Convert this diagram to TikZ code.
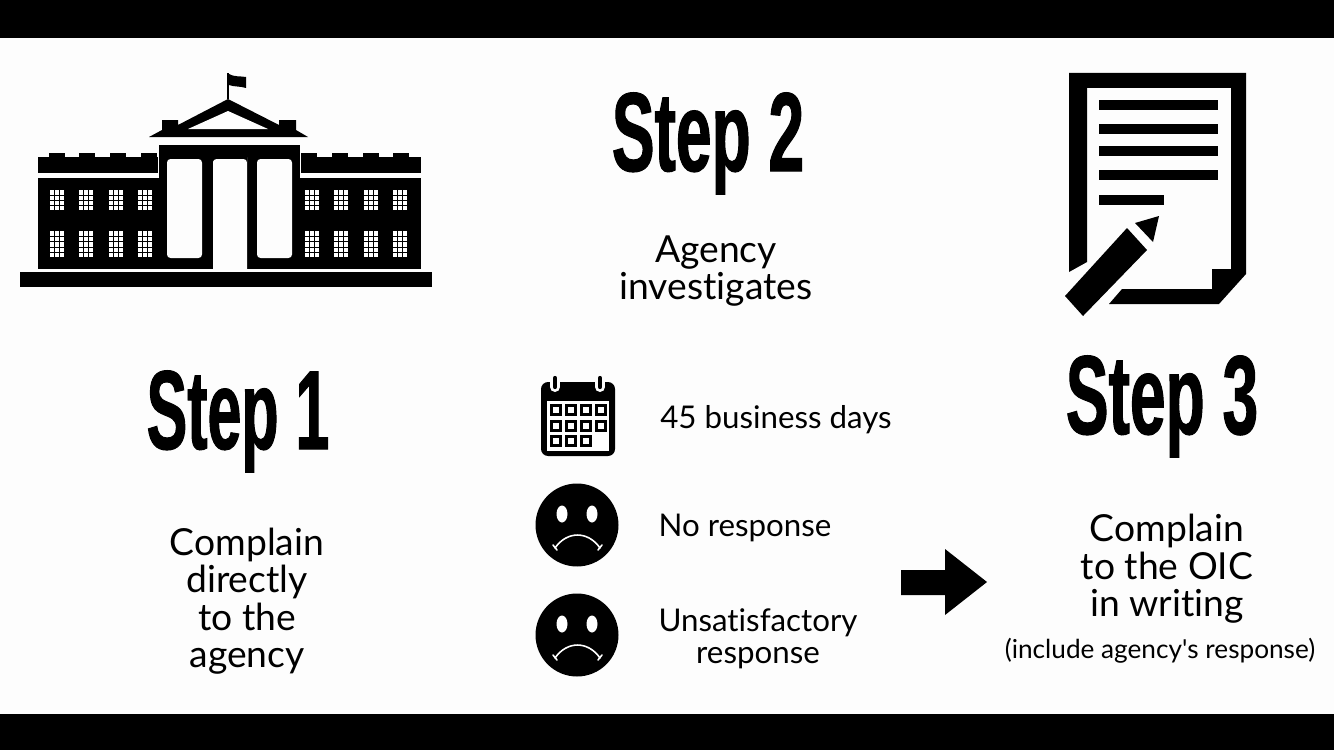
\documentclass[tikz,border=0pt]{standalone}
\usepackage{fontspec}
\setmainfont{Lato}[Ligatures=NoCommon]
\newfontfamily\stepfont[FakeStretch=0.57,FakeBold=0.9]{Liberation Sans Bold}
\definecolor{paper}{HTML}{FDFDFD}
\begin{document}
\begin{tikzpicture}[x=0.02cm,y=-0.02cm,
  steptitle/.style={inner sep=0pt,anchor=base,font=\stepfont\fontsize{64}{64}\selectfont},
  bigtext/.style={inner sep=0pt,align=center,font=\fontsize{21.2}{21.3}\selectfont},
  midtext/.style={inner sep=0pt,align=center,font=\fontsize{17.8}{18.3}\selectfont},
  smalltext/.style={inner sep=0pt,align=center,font=\fontsize{14.9}{16}\selectfont},
  window/.style={fill=white},
  winbar/.style={black,line width=0.35pt},
  sadface/.style={circle,fill=black,inner sep=0pt,minimum size=1.66cm},
  mouth/.style={white,line width=0.9pt,line cap=round}]
  \useasboundingbox (0,0) rectangle (1334,750);
  \fill[paper] (0,0) rectangle (1334,750);
  \fill[black] (0,0) rectangle (1334,38);
  \fill[black] (0,714) rectangle (1334,750);
  % building
  \fill (20,272) rectangle (432,287);
  \fill (38,178) rectangle (421,269);
  \fill (38,157) rectangle (158,173);
  \fill (301,157) rectangle (421,173);
  \foreach \cx in {49,79,110,141,301,332,363,393} {
    \fill (\cx,153) rectangle +(16,5);
  }
  \fill (159,145) rectangle (300,269);
  \fill[paper,rounded corners=2pt] (167,159) rectangle (202,258);
  \fill[paper,rounded corners=2pt] (257,159) rectangle (292,258);
  \fill[paper] (213,269) -- (213,161) [rounded corners=2pt] -- (213,159) -- (247,159) -- (247,161) [sharp corners] -- (247,269) -- cycle;
  % pediment and flag
  \fill (228,99) -- (279,125) -- (279,120) -- (296,120) -- (296,130) -- (308,137) -- (149,137) -- (162,130) -- (162,120) -- (178,120) -- (178,125) -- cycle;
  \fill[paper] (228,111) -- (268,129) -- (188,129) -- cycle;
  \draw[line width=0.6pt] (228,99) -- (228,73);
  \fill (229,74) .. controls (234,77) and (240,76) .. (246,77) -- (246,88) .. controls (240,86) and (234,87) .. (229,85) -- cycle;
  % windows
  \foreach \wx in {50,79,109,138,305,334,364,393} {
    \fill[window] (\wx,190) rectangle +(14,20);
    \fill[window] (\wx,231) rectangle +(14,26);
    \foreach \gx in {4.7,9.3} {
      \draw[winbar] (\wx+\gx,190) -- (\wx+\gx,210);
      \draw[winbar] (\wx+\gx,231) -- (\wx+\gx,257);
    }
    \foreach \gy in {195,200,205,236,241,247,252} {
      \draw[winbar] (\wx,\gy) -- (\wx+14,\gy);
    }
  }
  % document
  \fill (1069,73) -- (1246,73) -- (1246,274) -- (1219,304) -- (1109,304) -- (1122,289) -- (1212,289) -- (1212,269) -- (1231,269) -- (1231,88) -- (1087,88) -- (1087,262) -- (1069,272) -- cycle;
  \foreach \ly/\lx in {100/1218,124/1218,146/1218,170/1218,195/1164} {
    \fill (1099,\ly) rectangle (\lx,\ly+9.5);
  }
  \fill (1127,228) -- (1147,250) -- (1083,316) -- (1065,296) -- cycle;
  \fill (1135,223) -- (1159,216) -- (1153,242) -- cycle;
  % calendar
  \fill[rounded corners=4pt] (541,382) rectangle (615,456);
  \foreach \rx in {555,600} {
    \draw[paper,line width=5.7pt,line cap=round] (\rx,376) -- (\rx,387);
    \draw[black,line width=2.4pt,line cap=round] (\rx,378) -- (\rx,387);
  }
  \fill[white] (547,401) rectangle (609,451);
  \foreach \cy/\cxlist in {404/{550,565,580,595},420/{550,565,580,595},435/{550,565,580}} {
    \foreach \cx in \cxlist {
      \fill (\cx,\cy) rectangle +(11.5,11.5);
      \fill[white] (\cx+3,\cy+3) rectangle +(5.5,5.5);
    }
  }
  % faces
  \node[sadface] (facea) at (577,525) {};
  \node[sadface] (faceb) at (577,635) {};
  \foreach \fc in {facea,faceb} {
    \begin{scope}[shift={(\fc)}]
      \fill[white] (-15,-11) ellipse (5.5 and 8.5);
      \fill[white] (15,-11) ellipse (5.5 and 8.5);
      \draw[mouth] (-22,23) .. controls (-10,5.7) and (11,5.7) .. (23,23);
      \draw[mouth] (-24,20) -- (-20,25);
      \draw[mouth] (25,20) -- (21,25);
    \end{scope}
  }
  % arrow
  \fill (901,570) -- (945,570) -- (945,549) -- (987,582) -- (945,615) -- (945,595) -- (901,595) -- cycle;
  % texts
  \node[steptitle,xscale=.95] (stepa) at (238,449) {Step 1};
  \node[steptitle] (stepb) at (708,171) {Step 2};
  \node[steptitle] (stepc) at (1162,434) {Step 3};
  \node[bigtext] (agency) at (716,271) {Agency\\investigates};
  \node[bigtext] (direct) at (247,601) {Complain\\directly\\to the\\agency};
  \node[bigtext] (oic) at (1167,569) {Complain\\to the OIC\\in writing};
  \node[smalltext] (incl) at (1160,651) {(include agency\textquotesingle s response)};
  \node[midtext] (days) at (776,420) {45 business days};
  \node[midtext] (noresp) at (745,528) {No response};
  \node[midtext] (unsat) at (758,639) {Unsatisfactory\\response};
\end{tikzpicture}
\end{document}
